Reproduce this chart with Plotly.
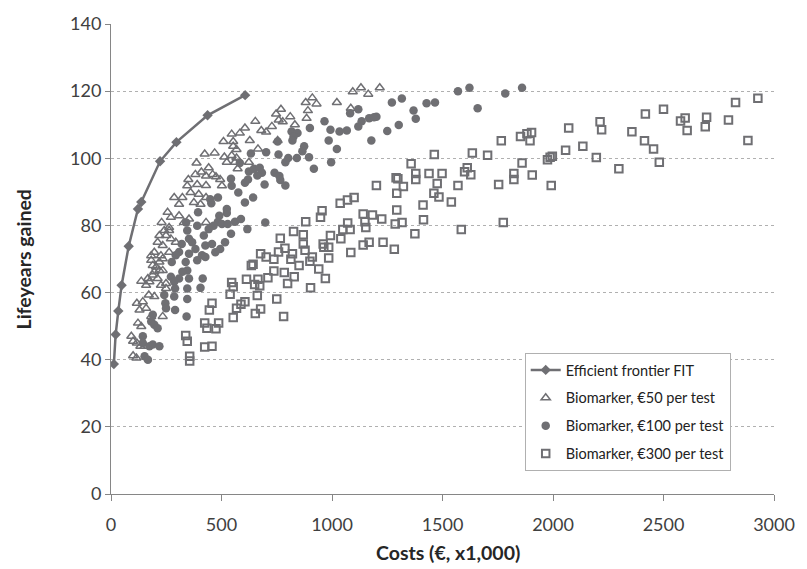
import plotly.graph_objects as go

# Efficient frontier FIT
frontier_x = [13, 21, 33, 48, 80, 122, 137, 222, 296, 437, 607]
frontier_y = [38.7, 47.5, 54.5, 62.2, 73.8, 84.9, 87, 99.1, 104.8, 112.8, 118.8]

# Biomarker, €50 per test
b50_x = [1094, 1131, 1164, 1216, 1022, 1085, 881, 911, 930, 891, 885, 769, 747, 811, 759, 777, 832, 728,
         653, 680, 702, 606, 583, 546, 509, 553, 553, 568, 628, 754, 665, 424, 469, 513, 546, 568, 524, 561,
         624, 573, 442, 409, 430, 460, 475, 494, 502, 430, 397, 430, 405, 430,
         387, 382, 350, 345, 390, 286, 308, 323, 375, 256, 271, 308, 330, 353, 229, 241, 263, 219, 249, 271,
         293, 211, 234, 196, 182, 182, 226, 263, 219, 204, 234, 189, 211, 137, 159, 174, 226, 249, 249, 171,
         196, 117, 144, 129, 159, 182, 234, 122, 137, 92,
         100, 115, 100, 117, 133, 152, 167, 196, 219, 234, 189, 360, 263]
b50_y = [119.8, 121, 119.1, 121, 116.6, 114.9, 116.6, 118, 116.2, 114.2, 111.9, 114.6, 113.2, 112.4, 111.4,
         110.9, 110, 109.5, 111, 108.3, 107.8, 109, 107.5, 107.2, 105, 105, 103.6, 102.6, 105.3, 105.3, 102.8,
         101.3, 101.6, 100.4, 100.8, 100.1, 98.8, 98.8, 98.8, 96.9, 97.2, 95.9, 94.7, 95.2, 94.5, 93.7, 91.8,
         91.9, 89.3, 88.3, 86.3, 80.9,
         98.6, 95.2, 93.7, 91.8, 92.2, 88.3, 86.3, 88.3, 86.8, 83.9, 82.4, 82.9, 80.9, 81.9, 80.9, 78.5, 78.5,
         77, 77, 76, 75, 75, 74, 72, 71, 69.6, 71, 72, 69.1, 67.6, 66.6, 65.2, 64.2, 63.4, 62.2, 63.2, 62.2,
         62.7, 61.2, 59.3, 58.8, 56.8, 57.3, 54.8, 55.3, 52.9, 52.9, 50.9, 49.9, 47,
         41.2, 40.5, 45.5, 45, 44, 44, 64.2, 66.2, 66.6, 70.1, 68.1, 89.8, 79.4]

# Biomarker, €100 per test
b100_x = [1570, 1622, 1784, 1860, 1659, 1428, 1466, 1369, 1379, 1271, 1316, 1250, 1302, 1201,
          1178, 1082, 1119, 1134, 1168, 1190, 1119, 1067, 1034, 993, 966, 985, 1022, 996, 900, 817, 844, 826,
          821, 754, 874, 866, 896, 918, 802, 841, 789, 758, 702, 633, 583, 624, 647, 673, 683, 662, 620, 606,
          695, 740, 762, 766, 789, 576, 543, 546, 643, 606, 524, 524, 484, 449, 454, 490, 484, 502, 464, 528,
          561, 588, 698, 617, 543, 516, 494, 472, 427, 457, 412, 420, 442, 415, 405,
          394, 340, 345, 390, 353, 367, 382, 353, 320, 308, 293, 275, 338, 345, 323, 308, 353, 271, 286, 290,
          345, 241, 286, 345, 246, 249, 290, 342, 189, 182, 196, 211, 144,
          152, 167, 144, 174, 189, 219, 427, 390]
b100_y = [120, 121, 119.3, 121, 114.9, 116.4, 116.6, 114.2, 111.8, 116.6, 117.8, 108.1, 109.9, 112.4,
          105.3, 113.4, 114.6, 111, 111.9, 112.2, 109.5, 108.3, 108, 108.5, 111, 105.3, 102.8, 98.8, 109, 108,
          107.5, 106.5, 105.3, 105, 103.6, 102.1, 100.3, 96.9, 100.1, 100.1, 98.8, 101.1, 101.8, 101.4, 98.6,
          96.1, 96.9, 97.2, 95.7, 94.9, 93.7, 92.7, 92.2, 95.7, 94.7, 93.5, 91.9, 89.8, 93.9, 91.8, 88.3, 86.8,
          84.9, 83.7, 88.3, 87.8, 86.6, 82.9, 81.1, 80.4, 79.9, 80.4, 81.1, 81.9, 80.9, 78.9, 77.5, 75, 73, 72,
          74, 74.5, 71.1, 77, 78.9, 64.2, 61.4,
          83.9, 80.9, 78.5, 79.9, 76, 75, 73, 71.6, 74.5, 72.1, 71.1, 69.1, 69.1, 66.6, 66.2, 64.2, 64.2, 64.7,
          63.2, 61.2, 61.2, 59.3, 58.8, 58.1, 56.8, 55.3, 54.8, 52.9, 53.4, 51.4, 50.4, 49.4, 47,
          41, 40, 45, 44, 44.5, 44, 70.6, 69.6]

# Biomarker, €300 per test
b300_x = [1201, 1037, 1070, 1100, 955, 948, 881, 1141, 1183, 1225, 1149, 1153, 1071, 1049, 1082, 1040, 993,
          870, 826, 766, 870, 960, 963, 985, 878, 911, 900, 985, 1085, 1141, 1168, 1231, 787, 758, 821, 814,
          737, 702, 677, 851, 940, 970, 903, 643, 737, 784, 829, 799, 613, 665, 673, 710, 650, 546, 553, 539,
          662, 750, 606, 588, 568, 677, 653, 553, 781, 457, 445, 424, 434, 487, 475, 424, 457, 1290,
          338, 345, 356, 356, 635,
          2071, 2135, 2057, 1903, 1882, 1853, 1896, 1766, 1635, 1704, 1463, 1358, 1379, 1379, 1439, 1498, 1476,
          1612, 1600, 1628, 1570, 1860, 1975, 1987, 1997, 1823, 1823, 1906, 1754, 1992, 1298, 1323, 1293, 1412,
          1461, 1484, 1540, 1293, 1286, 1317, 1414, 1375, 1585, 1775, 1282,
          2927, 2826, 2882, 2794, 2695, 2689, 2607, 2598, 2577, 2500, 2418, 2414, 2455, 2481, 2357, 2298, 2213,
          2220, 2196]
b300_y = [91.9, 86.6, 87.6, 88.3, 84.4, 82.4, 81.1, 83.4, 83.1, 81.9, 81.1, 79.4, 80.7, 78.8, 78.8, 76, 77,
          77.2, 78.2, 76.2, 74.5, 74.5, 73.5, 73.5, 72.6, 70.6, 69.3, 70.3, 71.9, 74.2, 75, 75, 73.2, 72.1, 71.6,
          69.9, 69.9, 70.6, 71.6, 68.1, 67, 64.2, 61.4, 68.4, 66.4, 66, 64.7, 62.7, 64, 64, 62, 64.4, 62.4, 63,
          61.7, 59.5, 59.1, 58.1, 57.3, 56.5, 55.3, 55.1, 53.8, 52.6, 52.9, 56.8, 54.8, 50.9, 49.4, 50.9, 49.2,
          43.8, 44, 94.2,
          47.2, 45.5, 41, 39.6, 68.1,
          109, 103.6, 102.4, 107.7, 107.3, 106.5, 105.2, 105.2, 101.6, 100.9, 101.1, 98.4, 95.5, 93.7, 95.5,
          95.5, 92.5, 97.2, 96, 95.1, 91.9, 98.6, 99.6, 100.3, 100.6, 95.5, 93.7, 95, 92.2, 91.9, 93.9, 91.6,
          89.6, 86.1, 89.6, 88.5, 87, 84.6, 80.4, 80.9, 81.7, 77.5, 78.8, 80.9, 72.9,
          117.9, 116.6, 105.3, 111.4, 112.2, 109.4, 108.3, 112, 111.1, 114.6, 113.2, 105.2, 102.8, 98.8, 107.9,
          96.9, 110.9, 108.5, 100.2]

x_ticks = [0, 500, 1000, 1500, 2000, 2500, 3000]
y_ticks = [0, 20, 40, 60, 80, 100, 120, 140]

GRAY = "#6f6f73"
FONT = "Lato, 'Open Sans', sans-serif"

fig = go.Figure()
fig.add_trace(go.Scatter(
    x=frontier_x, y=frontier_y, mode="lines+markers", name="Efficient frontier FIT",
    legendgroup="a",
    line=dict(color=GRAY, width=2.5),
    marker=dict(symbol="diamond", size=8, color=GRAY)))
fig.add_trace(go.Scatter(
    x=b50_x, y=b50_y, mode="markers", name="Biomarker, €50 per test", legendgroup="b",
    marker=dict(symbol="triangle-up-open", size=8, color=GRAY, line=dict(width=1.5, color=GRAY))))
fig.add_trace(go.Scatter(
    x=b100_x, y=b100_y, mode="markers", name="Biomarker, €100 per test", legendgroup="c",
    marker=dict(symbol="circle", size=8.5, color=GRAY, line=dict(width=0))))
fig.add_trace(go.Scatter(
    x=b300_x, y=b300_y, mode="markers", name="Biomarker, €300 per test", legendgroup="d",
    marker=dict(symbol="square-open", size=7.5, color=GRAY, line=dict(width=2, color=GRAY))))

fig.update_layout(
    width=807, height=569,
    margin=dict(l=111, r=24, t=20, b=75),
    paper_bgcolor="white", plot_bgcolor="white",
    font=dict(family=FONT, color="#404040", size=16),
    showlegend=True,
    legend=dict(
        x=0.624, y=0.3, xanchor="left", yanchor="top",
        bgcolor="white", bordercolor="#b0b0b0", borderwidth=1,
        font=dict(family=FONT, size=14.5, color="#222222"),
        tracegroupgap=6,
    ),
    xaxis=dict(
        range=[0, 3000], tickvals=x_ticks, ticktext=[str(v) for v in x_ticks],
        showgrid=False, zeroline=False,
        showline=True, linecolor="#868686", linewidth=1,
        ticks="outside", ticklen=6, tickcolor="#868686",
        ticklabelstandoff=8,
        tickfont=dict(size=18, color="#404040"),
    ),
    yaxis=dict(
        range=[0, 140], tickvals=y_ticks, ticktext=[str(v) for v in y_ticks],
        showgrid=True, gridcolor="#b0b0b0", griddash="3px,3px", gridwidth=1,
        zeroline=False,
        showline=True, linecolor="#868686", linewidth=1,
        ticks="outside", ticklen=5, tickcolor="#868686",
        tickfont=dict(size=18, color="#404040"),
    ),
    annotations=[
        dict(text="<b>Lifeyears gained</b>", xref="paper", yref="paper", x=-0.132, y=0.5,
             xanchor="center", yanchor="middle", textangle=-90, showarrow=False,
             font=dict(size=19.5, color="#262626")),
        dict(text="<b>Costs (€, x1,000)</b>", xref="paper", yref="paper", x=0.508, y=-0.124,
             xanchor="center", yanchor="middle", showarrow=False,
             font=dict(size=19.5, color="#262626")),
    ],
)

fig.write_html("out.html", config={"displayModeBar": False},
               post_script="document.body.style.margin='0px';")
